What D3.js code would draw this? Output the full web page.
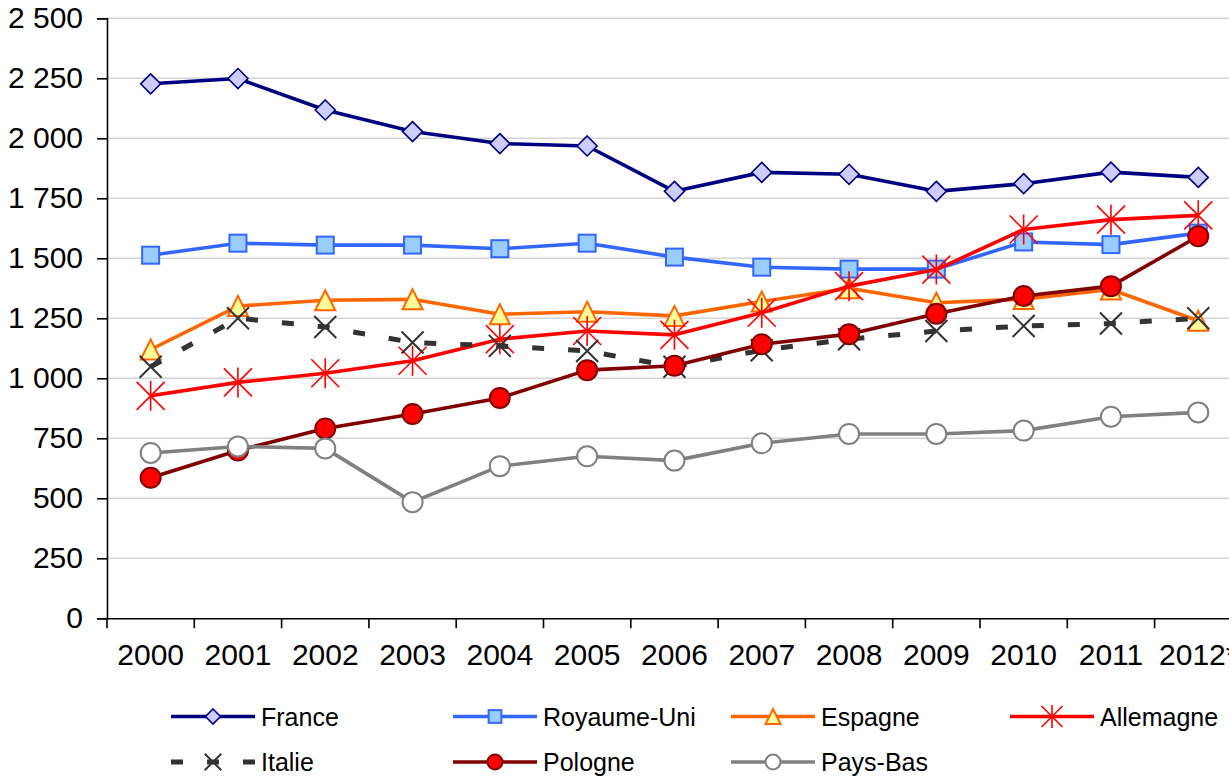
<!DOCTYPE html>
<html>
<head>
<meta charset="utf-8">
<script src="https://cdn.jsdelivr.net/npm/d3@7"></script>
<style>
  body { margin: 0; background: #fff; }
  text { font-family: "Liberation Sans", Arial, sans-serif; fill: #000; }
</style>
</head>
<body>
<div class="chart"></div>
<script>
var w = 1229;
var h = 779;
var margin = {top: 18.3, left: 107, bottom: 618.3};
var bandW = 87.3;

var years = ["2000", "2001", "2002", "2003", "2004", "2005", "2006", "2007", "2008", "2009", "2010", "2011", "2012*"];
var yTicks = [0, 250, 500, 750, 1000, 1250, 1500, 1750, 2000, 2250, 2500];

var france     = [2227, 2249, 2118, 2028, 1978, 1968, 1779, 1858, 1850, 1779, 1811, 1859, 1837];
var royaumeUni = [1513, 1563, 1555, 1555, 1540, 1563, 1505, 1463, 1455, 1455, 1568, 1557, 1605];
var espagne    = [1120, 1301, 1325, 1329, 1267, 1277, 1260, 1320, 1375, 1315, 1330, 1370, 1240];
var allemagne  = [927, 983, 1021, 1073, 1163, 1197, 1181, 1273, 1384, 1453, 1620, 1661, 1679];
var italie     = [1048, 1250, 1214, 1149, 1135, 1114, 1048, 1117, 1163, 1197, 1218, 1228, 1250];
var pologne    = [586, 699, 791, 851, 918, 1034, 1052, 1142, 1184, 1269, 1343, 1384, 1592];
var paysBas    = [689, 716, 708, 484, 634, 675, 657, 729, 768, 768, 782, 840, 858];

// series in drawing / legend order
var series = [
  {name: "France",      values: france,     color: "#000080", marker: "diamond",  fill: "#ccccff"},
  {name: "Royaume-Uni", values: royaumeUni, color: "#3366ff", marker: "square",   fill: "#99ccff"},
  {name: "Espagne",     values: espagne,    color: "#ff6600", marker: "triangle", fill: "#ffff99"},
  {name: "Allemagne",   values: allemagne,  color: "#ff0000", marker: "star",     fill: "none"},
  {name: "Italie",      values: italie,     color: "#333333", marker: "cross",    fill: "none", dash: "12,24", width: 5},
  {name: "Pologne",     values: pologne,    color: "#800000", marker: "circle",   fill: "#ff0000"},
  {name: "Pays-Bas",    values: paysBas,    color: "#808080", marker: "circle",   fill: "#ffffff"}
];

var svg = d3.select(".chart")
  .append("svg")
  .attr("width", w)
  .attr("height", h);

var xScale = d3.scaleBand()
  .domain(years)
  .range([margin.left, margin.left + bandW * years.length]);

var yScale = d3.scaleLinear()
  .domain([0, 2500])
  .range([margin.bottom, margin.top]);

var fmt = d3.formatLocale({decimal: ",", thousands: " ", grouping: [3], currency: ["", ""]}).format(",d");

// gridlines
svg.selectAll(".grid")
  .data(yTicks.filter(function (d) { return d > 0; }))
  .enter()
  .append("line")
  .attr("x1", margin.left)
  .attr("x2", xScale.range()[1])
  .attr("y1", function (d) { return yScale(d); })
  .attr("y2", function (d) { return yScale(d); })
  .attr("stroke", "#d4d4d4")
  .attr("stroke-width", 1.5);

// y axis
var yAxis = svg.append("g")
  .attr("transform", "translate(" + margin.left + ",0)")
  .call(d3.axisLeft(yScale).tickValues(yTicks).tickFormat(fmt).tickSize(10).tickPadding(14));
yAxis.select(".domain").attr("stroke", "#000").attr("stroke-width", 1.6);
yAxis.selectAll(".tick line").attr("stroke", "#000").attr("stroke-width", 1.6);
yAxis.selectAll(".tick text")
  .attr("font-family", "Liberation Sans, Arial, sans-serif")
  .attr("font-size", 30)
  .attr("fill", "#000");

// x axis
var xAxis = svg.append("g")
  .attr("transform", "translate(0," + margin.bottom + ")")
  .call(d3.axisBottom(xScale).tickSize(0).tickPadding(25));
xAxis.select(".domain").attr("stroke", "#000").attr("stroke-width", 1.6);
xAxis.selectAll(".tick text")
  .attr("font-family", "Liberation Sans, Arial, sans-serif")
  .attr("font-size", 30)
  .attr("fill", "#000");

// category boundary ticks
var bounds = years.map(function (d) { return xScale(d); }).concat([xScale.range()[1]]);
svg.selectAll(".xtick")
  .data(bounds)
  .enter()
  .append("line")
  .attr("x1", function (d) { return d; })
  .attr("x2", function (d) { return d; })
  .attr("y1", margin.bottom)
  .attr("y2", margin.bottom + 10)
  .attr("stroke", "#000")
  .attr("stroke-width", 1.6);

function drawMarker(g, s, x, y, k) {
  var r = 10 * k;
  if (s.marker === "diamond") {
    g.append("path")
      .attr("d", "M" + x + "," + (y - r) + "L" + (x + r) + "," + y + "L" + x + "," + (y + r) + "L" + (x - r) + "," + y + "Z")
      .attr("fill", s.fill).attr("stroke", s.color).attr("stroke-width", 1.6);
  } else if (s.marker === "square") {
    var a = 8.5 * k;
    g.append("rect")
      .attr("x", x - a).attr("y", y - a).attr("width", 2 * a).attr("height", 2 * a)
      .attr("fill", s.fill).attr("stroke", s.color).attr("stroke-width", 2);
  } else if (s.marker === "triangle") {
    var t = 10 * k;
    g.append("path")
      .attr("d", "M" + x + "," + (y - t) + "L" + (x + t) + "," + (y + t) + "L" + (x - t) + "," + (y + t) + "Z")
      .attr("fill", s.fill).attr("stroke", s.color).attr("stroke-width", 2).attr("stroke-linejoin", "miter");
  } else if (s.marker === "star") {
    var q = 14 * k;
    g.append("path")
      .attr("d", "M" + x + "," + (y - q - 1) + "V" + (y + q + 1) +
        "M" + (x - q) + "," + (y - q) + "L" + (x + q) + "," + (y + q) +
        "M" + (x - q) + "," + (y + q) + "L" + (x + q) + "," + (y - q))
      .attr("fill", "none").attr("stroke", s.color).attr("stroke-width", 1.6);
  } else if (s.marker === "cross") {
    var c = 11 * k;
    g.append("path")
      .attr("d", "M" + (x - c) + "," + (y - c) + "L" + (x + c) + "," + (y + c) +
        "M" + (x - c) + "," + (y + c) + "L" + (x + c) + "," + (y - c))
      .attr("fill", "none").attr("stroke", s.color).attr("stroke-width", 2);
  } else if (s.marker === "circle") {
    g.append("circle")
      .attr("cx", x).attr("cy", y).attr("r", r)
      .attr("fill", s.fill).attr("stroke", s.color).attr("stroke-width", 2);
  }
}

var line = d3.line()
  .x(function (d, i) { return xScale(years[i]) + xScale.bandwidth() / 2; })
  .y(function (d) { return yScale(d); });

// lines + markers
series.forEach(function (s) {
  var g = svg.append("g").attr("class", "series");
  g.append("path")
    .attr("d", line(s.values))
    .attr("fill", "none")
    .attr("stroke", s.color)
    .attr("stroke-width", s.width || 3.6)
    .attr("stroke-linejoin", "round")
    .attr("stroke-dasharray", s.dash || null);
  s.values.forEach(function (v, i) {
    drawMarker(g, s, xScale(years[i]) + xScale.bandwidth() / 2, yScale(v), 1);
  });
});

// legend
var legX = [171, 453, 731, 1010];
var legY = [716.5, 762];
var legLen = 84;
series.forEach(function (s, i) {
  var col = i < 4 ? i : i - 4;
  var row = i < 4 ? 0 : 1;
  var x0 = legX[col], y0 = legY[row];
  var g = svg.append("g").attr("class", "legend");
  g.append("line")
    .attr("x1", x0).attr("x2", x0 + legLen)
    .attr("y1", y0).attr("y2", y0)
    .attr("stroke", s.color)
    .attr("stroke-width", s.width || 3.6)
    .attr("stroke-dasharray", s.dash || null);
  drawMarker(g, s, x0 + legLen / 2, y0, 0.75);
  g.append("text")
    .attr("x", x0 + legLen + 6)
    .attr("y", y0 + 9)
    .attr("font-size", 25)
    .text(s.name);
});
</script>
</body>
</html>
